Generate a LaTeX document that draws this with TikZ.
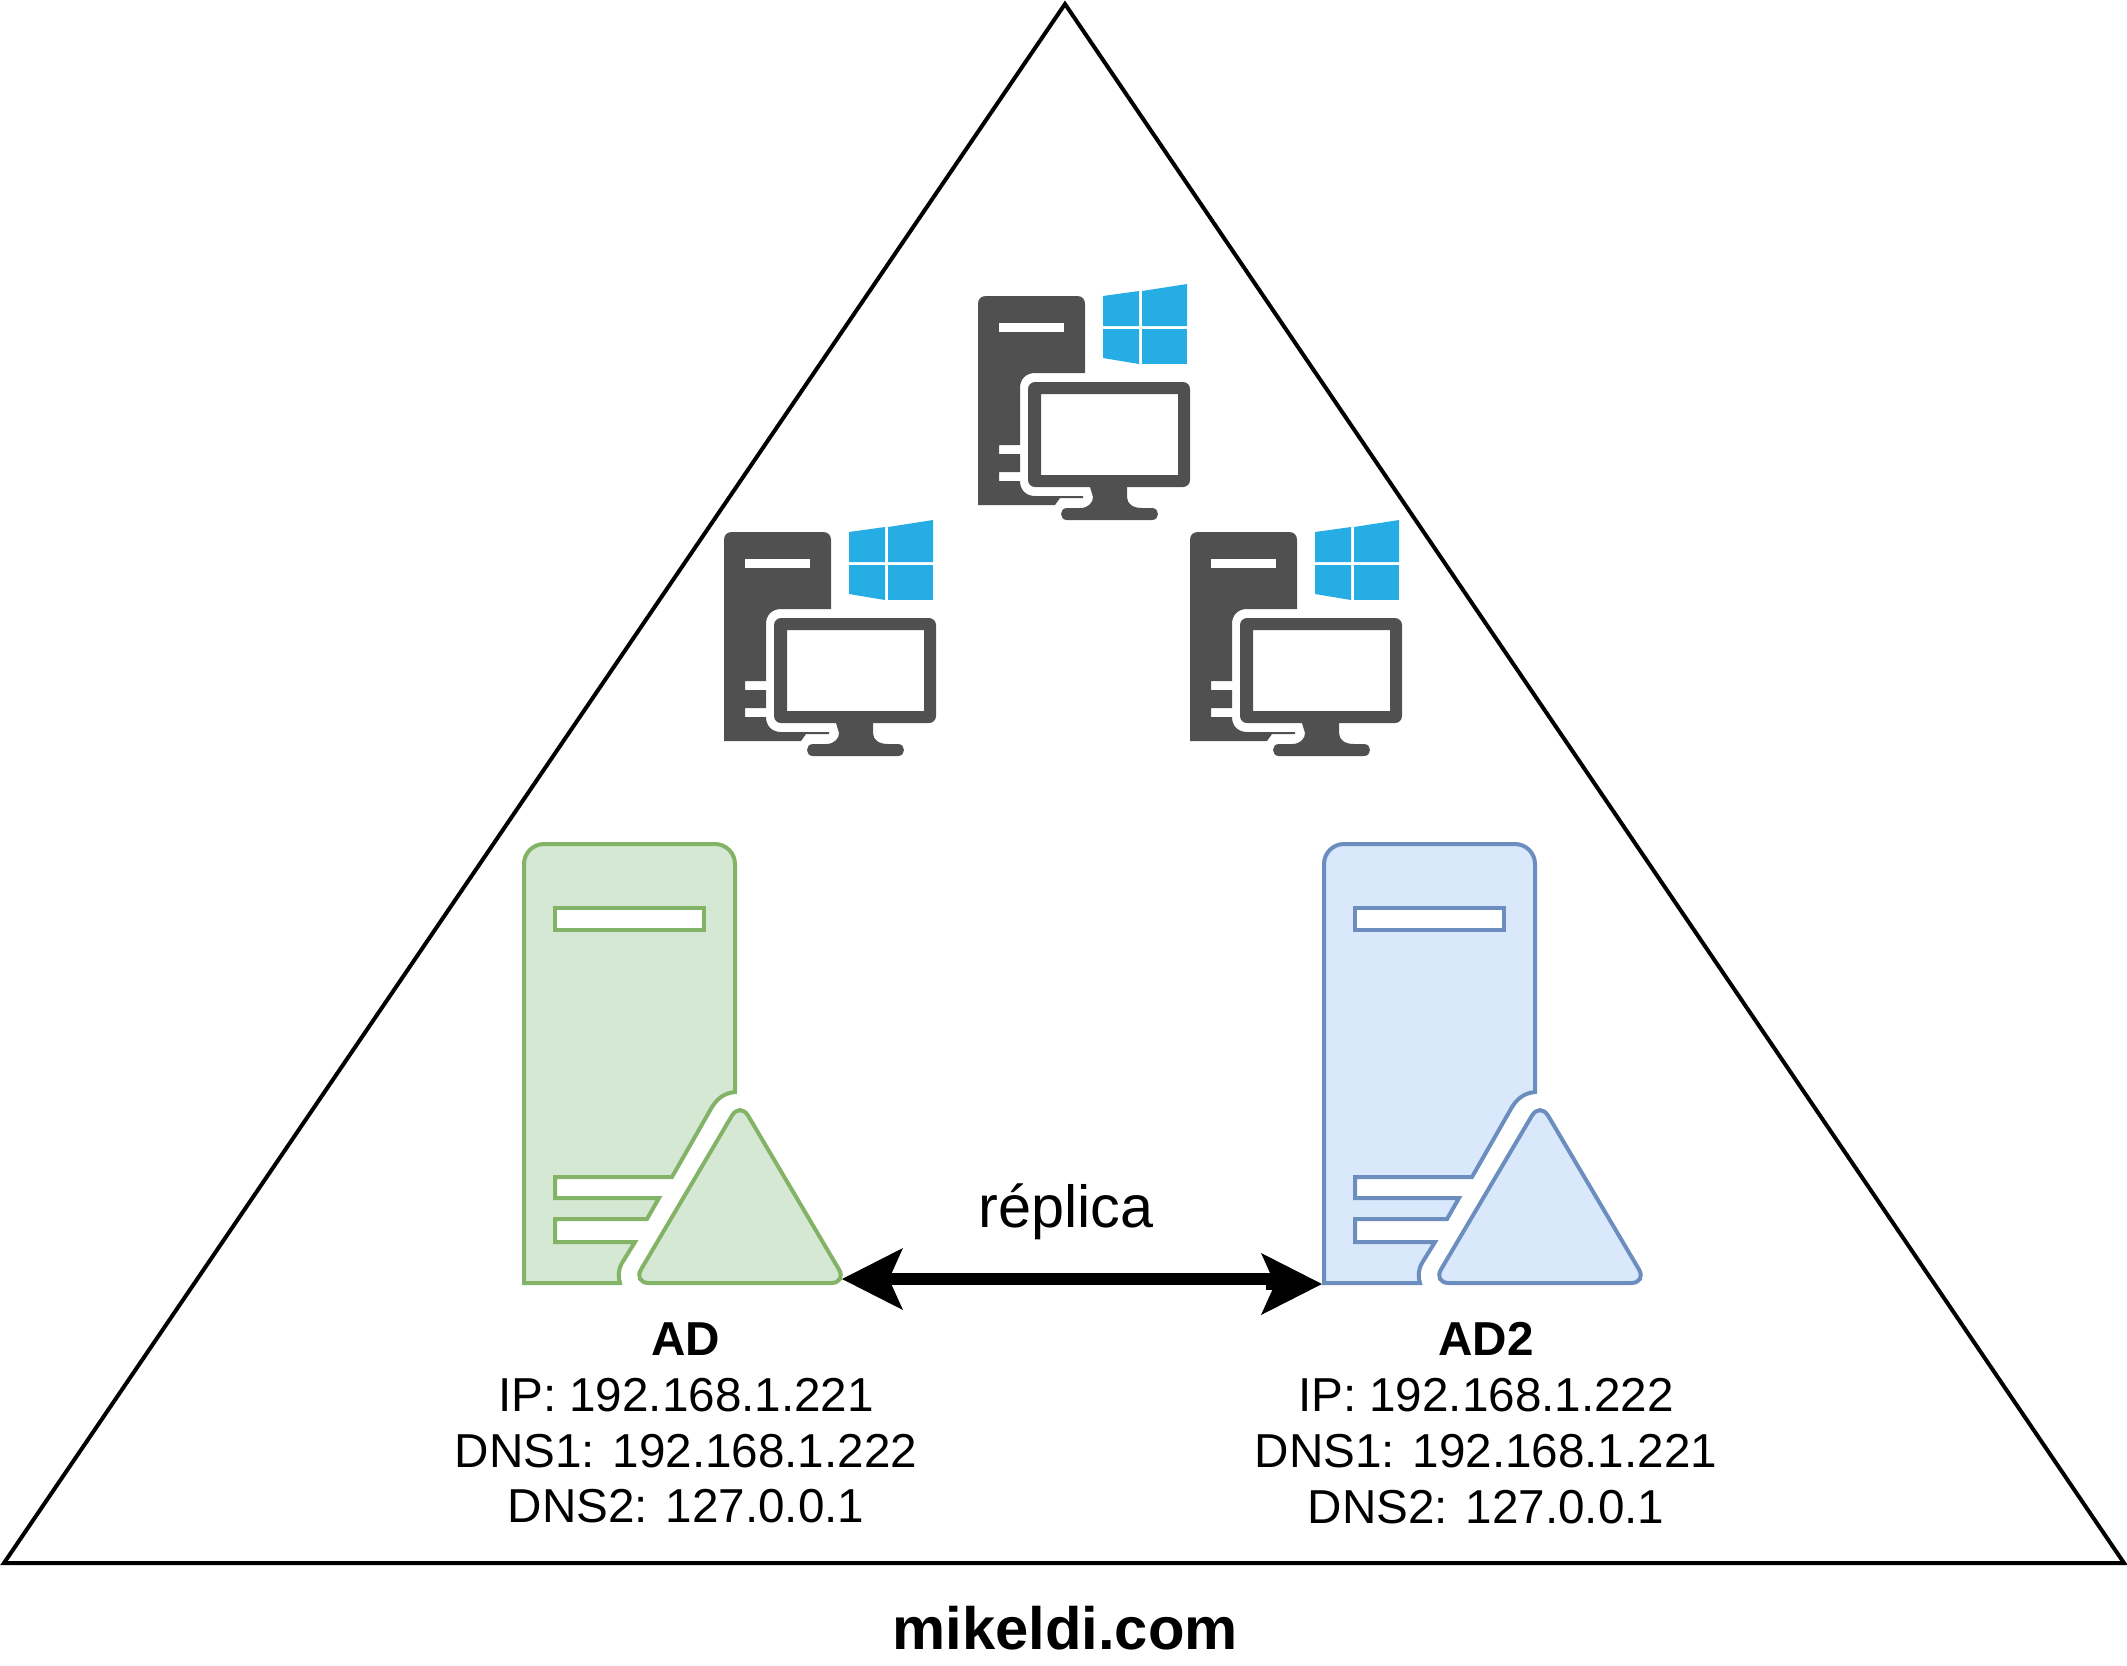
\documentclass[tikz,border=0pt]{standalone}
\usepackage{fontspec}
\setmainfont{Liberation Sans}
\usetikzlibrary{arrows.meta,positioning}
\definecolor{adgreen}{HTML}{82B366}
\definecolor{adgreenfill}{HTML}{D5E8D4}
\definecolor{adblue}{HTML}{6C8EBF}
\definecolor{adbluefill}{HTML}{DAE8FC}
\definecolor{wsgray}{HTML}{505050}
\definecolor{winblue}{HTML}{26ADE4}
\tikzset{
  adserver/.pic={
    \path[pic actions] (0,439) -- (0,20) .. controls (0,9) and (9,0) .. (20,0) -- (191,0)
      .. controls (202,0) and (211,9) .. (211,20) -- (211,248)
      .. controls (200,249) and (193,255) .. (188,263) -- (148,333) -- (31,333) -- (31,354) -- (135,354)
      -- (123,375) -- (31,375) -- (31,398) -- (111,398) -- (98,419)
      .. controls (94,426) and (94,433) .. (96,439) -- cycle;
    \path[pic actions, fill=white] (31,64) rectangle (180,86);
    \path[pic actions, rounded corners=1.6mm] (109,439) -- (216,258) -- (323,439) -- cycle;
  },
  workstation/.pic={
    \fill[wsgray] (0,209) -- (0,8) .. controls (0,3) and (3,0) .. (8,0) -- (99,0)
      .. controls (104,0) and (107,3) .. (107,8) -- (107,77)
      -- (57,77) .. controls (48,77) and (42,83) .. (42,92) -- (42,149) -- (21,149) -- (21,158) -- (42,158)
      -- (42,176) -- (21,176) -- (21,185) -- (42,185)
      .. controls (42,194) and (48,200) .. (57,200) -- (105,200) -- (105,202) -- (82,202) -- (77,209) -- cycle;
    \fill[white] (21,27) rectangle (86,36);
    \fill[wsgray, even odd rule, rounded corners=0.7mm] (50,86) rectangle (212,191)
      [sharp corners] (63,98) rectangle (200,179);
    \fill[wsgray] (112,191) -- (149,191) -- (149,201) .. controls (149,208) and (155,212) .. (164,212) -- (174,212)
      .. controls (178,212) and (180,215) .. (180,218) .. controls (180,221) and (178,224) .. (174,224) -- (89,224)
      .. controls (85,224) and (83,221) .. (83,218) .. controls (83,215) and (85,212) .. (89,212) -- (102,212)
      .. controls (111,212) and (115,206) .. (115,201) -- cycle;
    \fill[winblue] (125,0) -- (161,-5) -- (161,30) -- (125,30) -- cycle;
    \fill[winblue] (164,-5) -- (209,-12) -- (209,30) -- (164,30) -- cycle;
    \fill[winblue] (125,33) -- (161,33) -- (161,68) -- (125,62) -- cycle;
    \fill[winblue] (164,33) -- (209,33) -- (209,68) -- (164,68) -- cycle;
  }
}
\begin{document}
\begin{tikzpicture}[
  x=0.1mm, y=-0.1mm,
  lab/.style={font=\fontsize{13.55}{15.9}\selectfont, align=center},
  srvgreen/.style={draw=adgreen, fill=adgreenfill, line width=0.4mm},
  srvblue/.style={draw=adblue, fill=adbluefill, line width=0.4mm},
  rep/.style={{Stealth[length=6.1mm, width=6.2mm, inset=1.4mm, line width=0pt]}-{Stealth[length=6.1mm, width=6.2mm, inset=1.4mm, line width=0pt]}, line width=1.2mm}
]
\useasboundingbox (0,0) rectangle (2127,1666);
\draw[line width=0.4mm, line join=miter] (1065,4) -- (2124,1563) -- (4,1563) -- cycle;
\pic at (978,296) {workstation};
\pic at (724,532) {workstation};
\pic at (1190,532) {workstation};
\pic[srvgreen] at (524,844) {adserver};
\pic[srvblue] at (1324,844) {adserver};
\coordinate (adtip) at (842,1279);
\coordinate (ad2tip) at (1322,1284);
\coordinate (ad2back) at (1272,1279);
\draw[rep] (adtip) -- (ad2back) |- (ad2tip);
\node[lab, font=\fontsize{16.9}{20}\selectfont] (lblreplica) at (1066,1212) {réplica};
\node[lab] (lblad) at (686,1423) {\textbf{AD}\\IP: 192.168.1.221\\DNS1: 192.168.1.222\\DNS2: 127.0.0.1};
\node[lab] (lblad2) at (1486,1423) {\textbf{AD2}\\IP: 192.168.1.222\\DNS1: 192.168.1.221\\DNS2: 127.0.0.1};
\node[lab, font=\fontsize{17}{20}\selectfont\bfseries] (lblsite) at (1065,1628) {mikeldi.com};
\end{tikzpicture}
\end{document}
